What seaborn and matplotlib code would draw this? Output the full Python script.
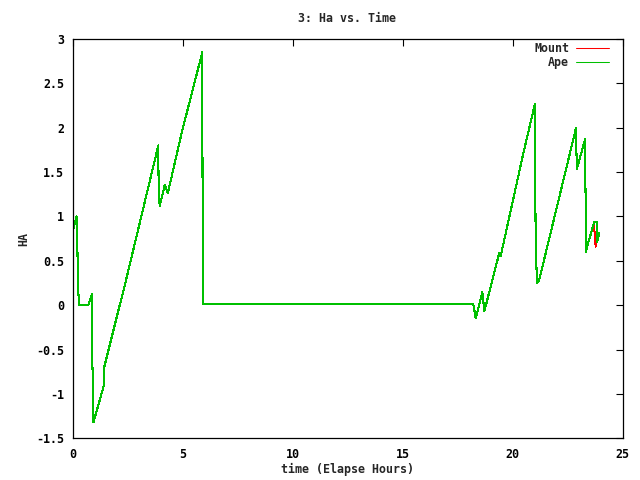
import matplotlib
matplotlib.use("Agg")
import matplotlib.pyplot as plt
import numpy as np
import pandas as pd
import seaborn as sns

# ---- data ----
time_ape = [0.00, 0.19, 0.22, 0.24, 0.30, 0.72, 0.89, 0.90, 0.95, 1.42, 1.45, 2.43,
            3.90, 3.91, 3.96, 4.20, 4.33, 4.99, 5.90, 5.91, 5.95,
            18.22, 18.33, 18.63, 18.72, 19.40, 19.46, 20.49, 21.02, 21.05, 21.11,
            21.20, 22.89, 22.90, 22.93, 23.30, 23.34, 23.45, 23.72, 23.82, 23.85, 23.94]
ha_ape = [0.83, 1.00, 0.75, 0.26, 0.00, 0.00, 0.13, -0.58, -1.32, -0.91, -0.69, 0.28,
          1.80, 1.46, 1.12, 1.36, 1.26, 1.97, 2.85, 1.44, 0.01,
          0.01, -0.15, 0.15, -0.07, 0.59, 0.55, 1.71, 2.27, 0.77, 0.25,
          0.27, 2.00, 1.77, 1.54, 1.87, 0.60, 0.71, 0.94, 0.94, 0.71, 0.81]

time_mount = time_ape[:38] + [23.70, 23.78, 23.82, 23.94]
ha_mount = ha_ape[:38] + [0.92, 0.66, 0.72, 0.80]

series_names = ["Mount", "Ape"]
colors = {"Mount": "#ff0000", "Ape": "#00c000"}

xticks = [0, 5, 10, 15, 20, 25]
yticks = [-1.5, -1, -0.5, 0, 0.5, 1, 1.5, 2, 2.5, 3]

df = pd.concat([
    pd.DataFrame({"time": time_mount, "HA": ha_mount, "series": "Mount"}),
    pd.DataFrame({"time": time_ape, "HA": ha_ape, "series": "Ape"}),
], ignore_index=True)

sns.set_style("white")
plt.rcParams['font.family'] = ['DejaVu Sans Mono']
plt.rcParams['font.weight'] = 'bold'
FS = 8.4

fig = plt.figure(figsize=(6.4, 4.8), dpi=100)
ax = fig.add_axes([72.5 / 640, 1 - 438.3 / 480, 550 / 640, 399.3 / 480])

sns.lineplot(data=df, x="time", y="HA", hue="series", hue_order=series_names,
             palette=colors, estimator=None, sort=False, lw=0.75, ax=ax)
for ln in ax.get_lines():
    ln.set_antialiased(False)

ax.set_xlim(0, 25)
ax.set_ylim(-1.5, 3)
ax.set_xticks(xticks)
ax.set_xticklabels([f"{v:g}" for v in xticks])
ax.set_yticks(yticks)
ax.set_yticklabels([f"{v:g}" for v in yticks])
ax.tick_params(direction='in', length=5, width=0.8, top=True, right=True,
               labelsize=FS, colors='black')
ax.tick_params(axis='x', pad=7)
ax.tick_params(axis='y', pad=6)
for s in ax.spines.values():
    s.set_color('black')
    s.set_linewidth(0.9)

ax.set_xlabel("time (Elapse Hours)", fontsize=FS, fontweight='bold')
ax.xaxis.set_label_coords(0.5, -(469 - 438.3) / 399.3)
ax.xaxis.label.set_va('center')
ax.set_ylabel("HA", fontsize=FS, fontweight='bold')
ax.yaxis.set_label_coords((24 - 72.5) / 550, 0.5)
ax.yaxis.label.set_va('center')

fig.text(347.5 / 640, 1 - 18 / 480, "3: Ha vs. Time", ha='center', va='center',
         fontsize=FS, fontweight='bold')

leg = ax.legend(loc='upper right', bbox_to_anchor=(0.976, 0.992), frameon=False,
                markerfirst=False, handlelength=2.85, handletextpad=0.6,
                labelspacing=0.05, borderaxespad=0, borderpad=0,
                prop={'size': FS, 'weight': 'bold'})

fig.savefig("out.png", dpi=100)
